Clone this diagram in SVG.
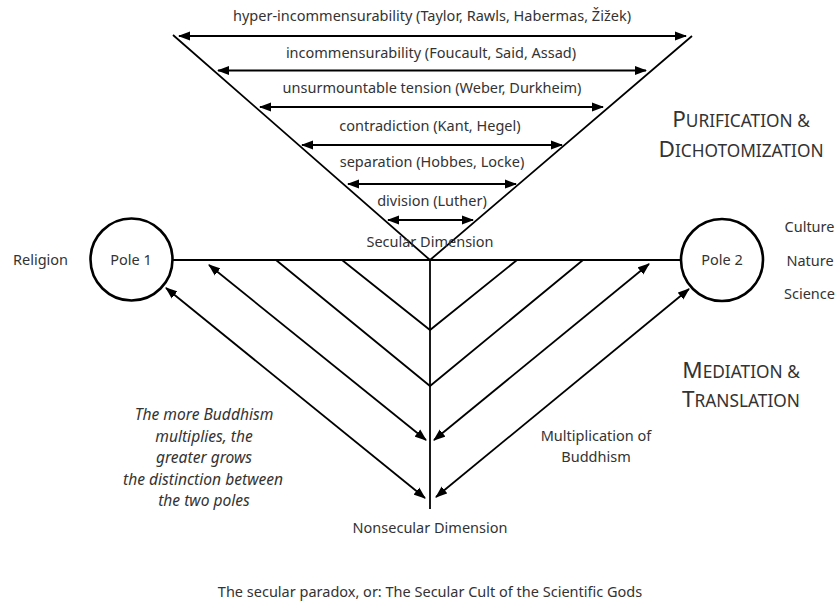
<svg xmlns="http://www.w3.org/2000/svg" width="838" height="608" viewBox="0 0 838 608">
<style>
text{font-family:"Noto Sans","Liberation Sans",sans-serif;font-size:14.5px;fill:#333;text-anchor:middle}
.it{font-style:italic;font-size:15.6px}
.big{font-size:22.5px}
.sc{font-size:17.3px}
.ln{stroke:#000;stroke-width:1.8;fill:none}
.ar{stroke:#000;stroke-width:1.8;fill:none;marker-start:url(#ah);marker-end:url(#ah)}
.pole{fill:#fff;stroke:#000;stroke-width:2.6}
</style>
<defs>
<marker id="ah" markerUnits="userSpaceOnUse" markerWidth="12" markerHeight="10" refX="11" refY="4.5" orient="auto-start-reverse" viewBox="0 0 12 9">
<path d="M0,0 L12,4.5 L0,9 z" fill="#000"/>
</marker>
</defs>
<rect width="838" height="608" fill="#fff"/>
<g id="connectors">
<path class="ln" d="M173,35 L430,260 L692,36"/>
<path class="ln" d="M172,260 L682,260"/>
<path class="ln" d="M430,260 L430,509"/>
<path class="ln" d="M342,260 L430,330 L517,260"/>
<path class="ln" d="M276,260 L430,386 L583,260"/>
<line class="ar" x1="179" y1="36" x2="686" y2="36"/>
<line class="ar" x1="218" y1="70.5" x2="646" y2="70.5"/>
<line class="ar" x1="260" y1="107" x2="603" y2="107"/>
<line class="ar" x1="302" y1="145" x2="562" y2="145"/>
<line class="ar" x1="348" y1="184" x2="516" y2="184"/>
<line class="ar" x1="388" y1="220" x2="473" y2="220"/>
<line class="ar" x1="209" y1="265" x2="426" y2="440"/>
<line class="ar" x1="166" y1="288" x2="425" y2="498"/>
<line class="ar" x1="649" y1="264" x2="434" y2="440"/>
<line class="ar" x1="689" y1="289" x2="436" y2="497"/>
</g>
<g id="level-labels">
<text x="432" y="21">hyper-incommensurability (Taylor, Rawls, Habermas, Žižek)</text>
<text x="431" y="58">incommensurability (Foucault, Said, Assad)</text>
<text x="432" y="93">unsurmountable tension (Weber, Durkheim)</text>
<text x="430" y="131">contradiction (Kant, Hegel)</text>
<text x="432" y="167">separation (Hobbes, Locke)</text>
<text x="432" y="206">division (Luther)</text>
</g>
<g id="secular-dimension"><text x="430" y="247">Secular Dimension</text></g>
<g id="pole1">
<circle class="pole" cx="131.5" cy="259.5" r="41"/>
<text x="131" y="265">Pole 1</text>
</g>
<g id="religion"><text x="40.5" y="265">Religion</text></g>
<g id="pole2">
<circle class="pole" cx="722" cy="260" r="41"/>
<text x="722" y="265">Pole 2</text>
</g>
<g id="pole2-labels">
<text x="809.5" y="232">Culture</text>
<text x="810" y="266">Nature</text>
<text x="809.5" y="299">Science</text>
</g>
<g id="purification">
<text x="741" y="127"><tspan class="big">P</tspan><tspan class="sc">URIFICATION &amp;</tspan></text>
<text x="741" y="157"><tspan class="big">D</tspan><tspan class="sc">ICHOTOMIZATION</tspan></text>
</g>
<g id="mediation">
<text x="741" y="378"><tspan class="big">M</tspan><tspan class="sc">EDIATION &amp;</tspan></text>
<text x="741" y="407"><tspan class="big">T</tspan><tspan class="sc">RANSLATION</tspan></text>
</g>
<g id="buddhism-note">
<text class="it" x="204" y="420">The more Buddhism</text>
<text class="it" x="204" y="441.5">multiplies, the</text>
<text class="it" x="204" y="463">greater grows</text>
<text class="it" x="203" y="484.5">the distinction between</text>
<text class="it" x="204" y="506">the two poles</text>
</g>
<g id="multiplication">
<text x="596" y="441">Multiplication of</text>
<text x="596" y="462">Buddhism</text>
</g>
<g id="nonsecular-dimension"><text x="430" y="533">Nonsecular Dimension</text></g>
<g id="caption"><text x="430" y="597">The secular paradox, or: The Secular Cult of the Scientific Gods</text></g>
</svg>
